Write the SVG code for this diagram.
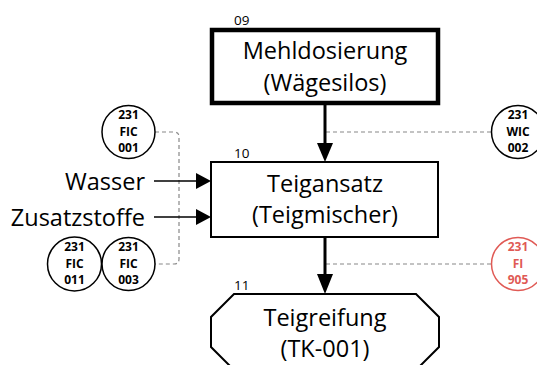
<svg xmlns="http://www.w3.org/2000/svg" width="537" height="365" viewBox="0 0 537 365">
<style>
.t{font-family:"Open Sans","Liberation Sans",sans-serif;font-size:23.5px;fill:#000;text-anchor:middle}
.s{font-family:"Open Sans","Liberation Sans",sans-serif;font-size:13.5px;fill:#000}
.c{font-family:"Open Sans","Liberation Sans",sans-serif;font-size:12px;font-weight:bold;text-anchor:middle;fill:#000}
.cr{fill:#e05a55}
.circ{fill:#fff;stroke:#000;stroke-width:1.5}
.red{stroke:#e05a55}
.d{fill:none;stroke:#888;stroke-width:1.2;stroke-dasharray:4 3}
.ln{stroke:#000;fill:none}
</style>
<rect width="537" height="365" fill="#fff"/>
<g id="connectors">
<path class="d" d="M155,132 H174 Q179,132 179,137 V259 Q179,264 174,264 H155"/>
<path class="d" d="M326,132 H491"/>
<path class="d" d="M326,264 H491"/>
<line class="ln" x1="325" y1="103" x2="325" y2="145" stroke-width="3"/>
<path d="M317,143 L333,143 L325,162 Z" fill="#000"/>
<line class="ln" x1="325" y1="237" x2="325" y2="276" stroke-width="3"/>
<path d="M317,274 L333,274 L325,294 Z" fill="#000"/>
<line class="ln" x1="154" y1="181" x2="198" y2="181" stroke-width="1.5"/>
<path d="M196,173 L211,181 L196,189 Z" fill="#000"/>
<line class="ln" x1="154" y1="217" x2="198" y2="217" stroke-width="1.5"/>
<path d="M196,209 L211,217 L196,225 Z" fill="#000"/>
</g>
<g id="n09">
<rect x="212" y="30" width="226" height="73" fill="#fff" stroke="#000" stroke-width="4.5"/>
<text class="s" x="234" y="25">09</text>
<text class="t" x="325" y="59">Mehldosierung</text>
<text class="t" x="325" y="91">(Wägesilos)</text>
</g>
<g id="n10">
<rect x="211" y="162" width="227" height="75" fill="#fff" stroke="#000" stroke-width="2"/>
<text class="s" x="234" y="158">10</text>
<text class="t" x="325" y="192">Teigansatz</text>
<text class="t" x="325" y="223">(Teigmischer)</text>
</g>
<g id="n11">
<path d="M234,294 H416 L439,317 V347 L416,370 H234 L211,347 V317 Z" fill="#fff" stroke="#000" stroke-width="2"/>
<text class="s" x="234" y="290">11</text>
<text class="t" x="325" y="326">Teigreifung</text>
<text class="t" x="325" y="357">(TK-001)</text>
</g>
<g id="wasser">
<text class="t" x="145" y="190" style="text-anchor:end">Wasser</text>
</g>
<g id="zusatzstoffe">
<text class="t" x="145" y="226" style="text-anchor:end">Zusatzstoffe</text>
</g>
<g id="fic001">
<circle class="circ" cx="128.5" cy="132" r="26.5"/>
<text class="c" x="128.5" y="119">231</text>
<text class="c" x="128.5" y="136">FIC</text>
<text class="c" x="128.5" y="152">001</text>
</g>
<g id="fic011">
<circle class="circ" cx="74.5" cy="264" r="27"/>
<text class="c" x="74.5" y="251">231</text>
<text class="c" x="74.5" y="268">FIC</text>
<text class="c" x="74.5" y="284">011</text>
</g>
<g id="fic003">
<circle class="circ" cx="128.5" cy="264" r="26.5"/>
<text class="c" x="128.5" y="251">231</text>
<text class="c" x="128.5" y="268">FIC</text>
<text class="c" x="128.5" y="284">003</text>
</g>
<g id="wic002">
<circle class="circ" cx="518" cy="132" r="26.5"/>
<text class="c" x="518" y="119">231</text>
<text class="c" x="518" y="136">WIC</text>
<text class="c" x="518" y="152">002</text>
</g>
<g id="fi905">
<circle class="circ red" cx="518" cy="264" r="26.5"/>
<text class="c cr" x="518" y="251">231</text>
<text class="c cr" x="518" y="268">FI</text>
<text class="c cr" x="518" y="284">905</text>
</g>
</svg>
